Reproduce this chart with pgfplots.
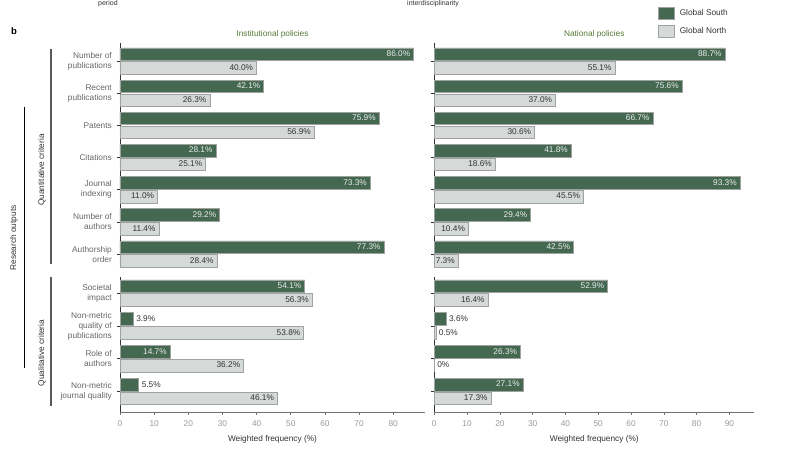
\documentclass[border=0pt]{standalone}
\usepackage{pgfplots}
\pgfplotsset{compat=1.18}
\usepackage{fontspec}
\setmainfont{Liberation Sans}

\definecolor{gsouth}{HTML}{456851}
\definecolor{gnorth}{HTML}{D5D9D8}
\definecolor{baredge}{HTML}{9EA3A1}
\definecolor{txt}{HTML}{333333}
\definecolor{cat}{HTML}{666666}
\definecolor{tickc}{HTML}{999999}
\definecolor{ttl}{HTML}{557A35}

\newcommand{\lbl}{\fontsize{8.3}{10}\selectfont}
% zero-size label boxes, so the anchor chosen by pgfplots does not matter
\newcommand{\inlbl}[1]{\makebox[0pt][r]{\raisebox{-3pt}[0pt][0pt]{#1\hspace{3.5pt}}}}
\newcommand{\outlbl}[1]{\makebox[0pt][l]{\raisebox{-3pt}[0pt][0pt]{\hspace{3pt}#1}}}

\pgfplotsset{
  panel/.style={
    scale only axis, xmin=0, clip=false,
    tick align=outside, major tick length=3pt,
    /pgf/number format/assume math mode=true,
    y axis line style={color=txt, line width=0.8pt},
    x axis line style={color=black!55, line width=0.8pt},
    ytick style={color=txt, line width=0.6pt},
    xtick style={color=black!55, line width=0.6pt},
    yticklabel style={align=right, font=\lbl, text=cat, inner sep=1pt, xshift=-4pt},
    xticklabel style={font=\lbl, text=tickc, yshift=-2pt},
    xlabel style={font=\lbl, text=txt, yshift=-2pt},
    title style={font=\lbl, text=ttl, yshift=-5pt},
  },
  top/.style={panel, hide x axis, axis y line*=left, height=224pt,
    ymin=-6.4, ymax=0.56, ytick={0,-1,-2,-3,-4,-5,-6}},
  bot/.style={panel, axis lines*=left, height=135pt,
    ymin=-3.62, ymax=0.49, ytick={0,-1,-2,-3},
    xlabel={Weighted frequency (\%)}},
  south/.style={xbar, bar shift=0pt, bar width=12.5pt, fill=gsouth, draw=baredge, line width=0.6pt,
    point meta=explicit symbolic, nodes near coords={\inlbl{\pgfplotspointmeta}},
    every node near coord/.append style={font=\lbl, text=white!88!gsouth, inner sep=0pt},
    legend image code/.code={\draw[##1] (0pt,-5.7pt) rectangle (16pt,5.7pt);}},
  north/.style={xbar, bar shift=0pt, bar width=12.5pt, fill=gnorth, draw=baredge, line width=0.6pt,
    point meta=explicit symbolic, nodes near coords={\inlbl{\pgfplotspointmeta}},
    every node near coord/.append style={font=\lbl, text=txt, inner sep=0pt},
    legend image code/.code={\draw[##1] (0pt,-5.7pt) rectangle (16pt,5.7pt);}},
  outside/.style={draw=none, mark=none, point meta=explicit symbolic,
    nodes near coords={\outlbl{\pgfplotspointmeta}},
    every node near coord/.append style={font=\lbl, text=txt, inner sep=0pt}},
}

\begin{document}
\begin{tikzpicture}
\useasboundingbox (0,0) rectangle (785pt,-449pt);

% Institutional policies, quantitative
\begin{axis}[top, at={(120pt,-43pt)}, anchor=north west, width=305pt, xmax=89.3,
  title={Institutional policies},
  yticklabels={{Number of\\publications},{Recent\\publications},Patents,Citations,
    {Journal\\indexing},{Number of\\authors},{Authorship\\order}}]
\addplot[south] coordinates {(86.0,0.215)[86.0\%] (42.1,-0.785)[42.1\%] (75.9,-1.785)[75.9\%]
  (28.1,-2.785)[28.1\%] (73.3,-3.785)[73.3\%] (29.2,-4.785)[29.2\%] (77.3,-5.785)[77.3\%]};
\addplot[north] coordinates {(40.0,-0.215)[40.0\%] (26.3,-1.215)[26.3\%] (56.9,-2.215)[56.9\%]
  (25.1,-3.215)[25.1\%] (11.0,-4.215)[11.0\%] (11.4,-5.215)[11.4\%] (28.4,-6.215)[28.4\%]};
\end{axis}

% National policies, quantitative
\begin{axis}[top, at={(434.3pt,-43pt)}, anchor=north west, width=320pt, xmax=97.6,
  title={National policies}, yticklabels={{},{},{},{},{},{},{}},
  legend style={at={(axis description cs:0.699,1.161)}, anchor=north west, draw=none, fill=none,
    font=\lbl, text=txt, row sep=6pt, column sep=3pt, inner sep=0pt},
  legend cell align=left]
\addplot[south] coordinates {(88.7,0.215)[88.7\%] (75.6,-0.785)[75.6\%] (66.7,-1.785)[66.7\%]
  (41.8,-2.785)[41.8\%] (93.3,-3.785)[93.3\%] (29.4,-4.785)[29.4\%] (42.5,-5.785)[42.5\%]};
\addplot[north] coordinates {(55.1,-0.215)[55.1\%] (37.0,-1.215)[37.0\%] (30.6,-2.215)[30.6\%]
  (18.6,-3.215)[18.6\%] (45.5,-4.215)[45.5\%] (10.4,-5.215)[10.4\%] (7.3,-6.215)[7.3\%]};
\legend{Global South, Global North}
\end{axis}

% Institutional policies, qualitative
\begin{axis}[bot, at={(120pt,-277pt)}, anchor=north west, width=305pt, xmax=89.3,
  xtick={0,10,...,80},
  yticklabels={{Societal\\impact},{Non-metric\\quality of\\publications},{Role of\\authors},
    {Non-metric\\journal quality}}]
\addplot[south] coordinates {(54.1,0.21)[54.1\%] (3.9,-0.79)[{}] (14.7,-1.79)[14.7\%] (5.5,-2.79)[{}]};
\addplot[north] coordinates {(56.3,-0.21)[56.3\%] (53.8,-1.21)[53.8\%] (36.2,-2.21)[36.2\%] (46.1,-3.21)[46.1\%]};
\addplot[outside] coordinates {(3.9,-0.79)[3.9\%] (5.5,-2.79)[5.5\%]};
\end{axis}

% National policies, qualitative
\begin{axis}[bot, at={(434.3pt,-277pt)}, anchor=north west, width=320pt, xmax=97.6,
  xtick={0,10,...,90}, yticklabels={{},{},{},{}}]
\addplot[south] coordinates {(52.9,0.21)[52.9\%] (3.6,-0.79)[{}] (26.3,-1.79)[26.3\%] (27.1,-2.79)[27.1\%]};
\addplot[north] coordinates {(16.4,-0.21)[16.4\%] (0.5,-1.21)[{}] (0,-2.21)[{}] (17.3,-3.21)[17.3\%]};
\addplot[outside] coordinates {(3.6,-0.79)[3.6\%] (0.5,-1.21)[0.5\%] (0,-2.21)[0\%]};
\end{axis}

% group brackets and labels
\node[font=\bfseries\fontsize{9.5}{11}\selectfont, anchor=base west, inner sep=0pt] at (11pt,-35pt) {b};
\draw[line width=1.3pt, color=black!65] (51pt,-49pt) -- (51pt,-264pt);
\draw[line width=1.3pt, color=black!65] (51pt,-277pt) -- (51pt,-406pt);
\draw[line width=0.8pt, color=black] (24pt,-107pt) -- (24pt,-368pt);
\node[rotate=90, font=\lbl, text=txt] at (42pt,-170pt) {Quantitative criteria};
\node[rotate=90, font=\lbl, text=txt] at (42pt,-353pt) {Qualitative criteria};
\node[rotate=90, font=\lbl, text=txt] at (14pt,-238pt) {Research outputs};
% remains of the panel above, kept just inside the top edge
\node[anchor=base west, font=\fontsize{7}{8}\selectfont, text=txt, inner sep=0pt] at (98pt,-6pt) {period};
\node[anchor=base west, font=\fontsize{7}{8}\selectfont, text=txt, inner sep=0pt] at (407pt,-6pt) {interdisciplinarity};
\end{tikzpicture}
\end{document}
